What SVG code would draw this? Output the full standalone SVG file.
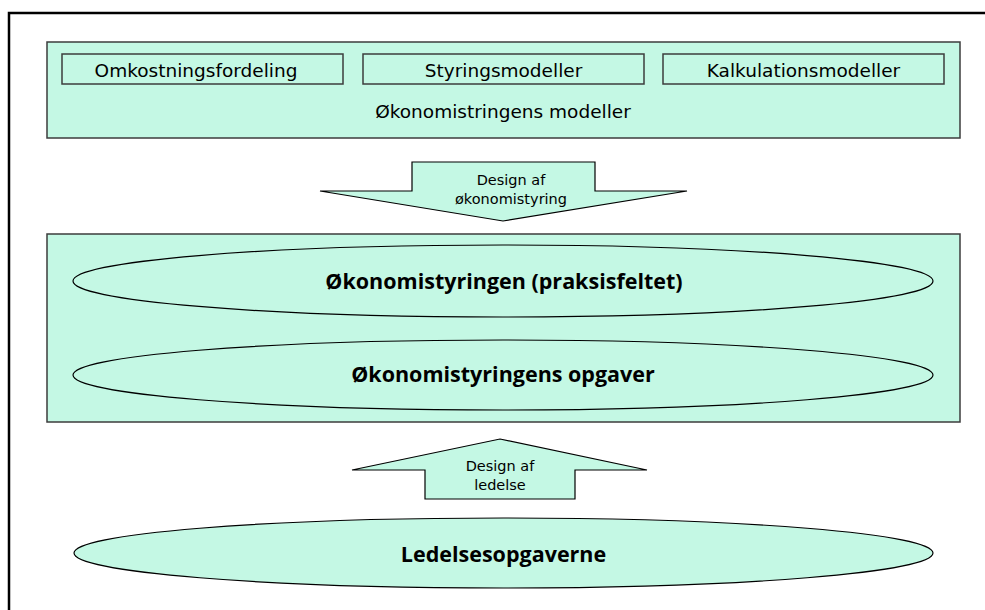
<svg xmlns="http://www.w3.org/2000/svg" width="985" height="610" viewBox="0 0 985 610">
<style>
.box{fill:#c4f8e4;stroke:#3c3c3c;stroke-width:1.5}
.ell{fill:#c4f8e4;stroke:#000;stroke-width:1.2}
.arr{fill:#c4f8e4;stroke:#000;stroke-width:1.2}
.t{fill:#000;text-anchor:middle}
.n{font-family:"DejaVu Sans","Open Sans",sans-serif;font-size:18.5px}
.s{font-family:"DejaVu Sans","Open Sans",sans-serif;font-size:14.5px}
.b{font-family:"Open Sans","DejaVu Sans",sans-serif;font-size:21.5px;font-weight:bold}
</style>
<rect x="0" y="0" width="985" height="610" fill="#fff"/>
<path d="M9,610 V13 H985" fill="none" stroke="#000" stroke-width="2.5"/>
<g id="modeller">
<rect class="box" x="47" y="42" width="913" height="96"/>
<text class="t n" x="503" y="118">Økonomistringens modeller</text>
</g>
<g id="omkostningsfordeling">
<rect class="box" x="62" y="54" width="281" height="30"/>
<text class="t n" x="196" y="76.5">Omkostningsfordeling</text>
</g>
<g id="styringsmodeller">
<rect class="box" x="363" y="54" width="281" height="30"/>
<text class="t n" x="503.5" y="76.5">Styringsmodeller</text>
</g>
<g id="kalkulationsmodeller">
<rect class="box" x="663" y="54" width="281" height="30"/>
<text class="t n" x="803.5" y="76.5">Kalkulationsmodeller</text>
</g>
<g id="midtboks">
<rect class="box" x="47" y="234" width="913" height="188"/>
</g>
<g id="praksisfeltet">
<ellipse class="ell" cx="503" cy="281" rx="430" ry="36"/>
<text class="t b" x="504" y="289">Økonomistyringen (praksisfeltet)</text>
</g>
<g id="opgaver">
<ellipse class="ell" cx="503" cy="375" rx="430" ry="35"/>
<text class="t b" x="503" y="382">Økonomistyringens opgaver</text>
</g>
<g id="ledelsesopgaverne">
<ellipse class="ell" cx="503.5" cy="553" rx="429.5" ry="35"/>
<text class="t b" x="503.5" y="562">Ledelsesopgaverne</text>
</g>
<g id="connectors">
<g id="design-okonomistyring">
<path class="arr" d="M412,162 H595 V191 H687 L503,221 L320,191 H412 Z"/>
<text class="t s" x="511" y="185">Design af</text>
<text class="t s" x="511" y="204">økonomistyring</text>
</g>
<g id="design-ledelse">
<path class="arr" d="M500,439 L647,470 H575 V499 H425 V470 H352 Z"/>
<text class="t s" x="500" y="471">Design af</text>
<text class="t s" x="500" y="490">ledelse</text>
</g>
</g>
</svg>
